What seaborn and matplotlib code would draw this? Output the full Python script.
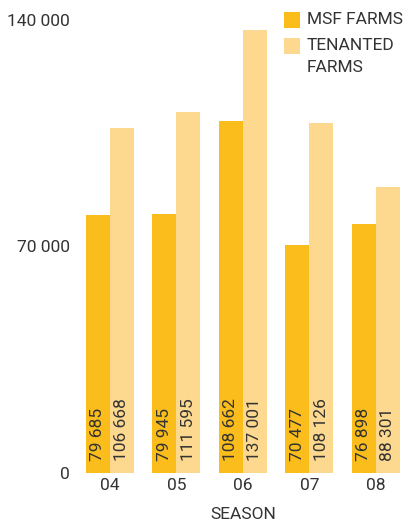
import matplotlib
matplotlib.use("Agg")
import matplotlib.pyplot as plt
import seaborn as sns
import pandas as pd
from matplotlib.patches import Rectangle

seasons = ["04", "05", "06", "07", "08"]
msf = [79685, 79945, 108662, 70477, 76898]
tenanted = [106668, 111595, 137001, 108126, 88301]
series_names = ["MSF FARMS", "TENANTED\nFARMS"]
colors = ["#FABD1B", "#FDD98F"]

df = pd.DataFrame({
    "season": seasons * 2,
    "value": msf + tenanted,
    "type": [series_names[0]] * len(seasons) + [series_names[1]] * len(seasons),
})

sns.set_theme(style="white")
plt.rcParams["font.family"] = ["Roboto", "DejaVu Sans"]
txt = "#333333"
fs = 12.5
W, H = 410, 522

fig = plt.figure(figsize=(W / 100, H / 100), dpi=100)
ax = fig.add_axes([0.187, 0.094, 0.811, 0.868])
sns.barplot(data=df, x="season", y="value", hue="type", palette=colors,
            width=0.72, ax=ax, legend=False, saturation=1, linewidth=0,
            edgecolor="none")

for container in ax.containers:
    for bar in container:
        h = bar.get_height()
        lab = f"{int(round(h)):,}".replace(",", " ")
        ax.text(bar.get_x() + bar.get_width() / 2, 3800, lab, rotation=90,
                ha="center", va="bottom", fontsize=fs, color=txt)

ax.set_ylim(0, 140000)
ax.set_xlim(-0.5, 4.5)
ax.set_yticks([0, 70000, 140000])
ax.set_yticklabels(["0", "70 000", "140 000"])
ax.tick_params(axis="both", length=0, labelsize=fs, colors=txt)
ax.tick_params(axis="y", pad=5)
ax.tick_params(axis="x", pad=4)
ax.set_xlabel("SEASON", fontsize=fs, color=txt, labelpad=10)
ax.set_ylabel("")
for s in ax.spines.values():
    s.set_visible(False)

# legend (figure pixel positions converted to fractions)
sq = 16
leg_x = 284
tops = [12, 38]
for name, c, top in zip(series_names, colors, tops):
    fig.add_artist(Rectangle((leg_x / W, 1 - (top + sq) / H), sq / W, sq / H,
                             transform=fig.transFigure, facecolor=c,
                             edgecolor="none"))
    fig.text(307 / W, 1 - (top + sq / 2) / H, name.split("\n")[0], fontsize=fs,
             color=txt, va="center", ha="left")
    for i, extra in enumerate(name.split("\n")[1:], start=1):
        fig.text(307 / W, 1 - (top + sq / 2 + 22 * i) / H, extra, fontsize=fs,
                 color=txt, va="center", ha="left")

fig.savefig("out.png", dpi=100)
